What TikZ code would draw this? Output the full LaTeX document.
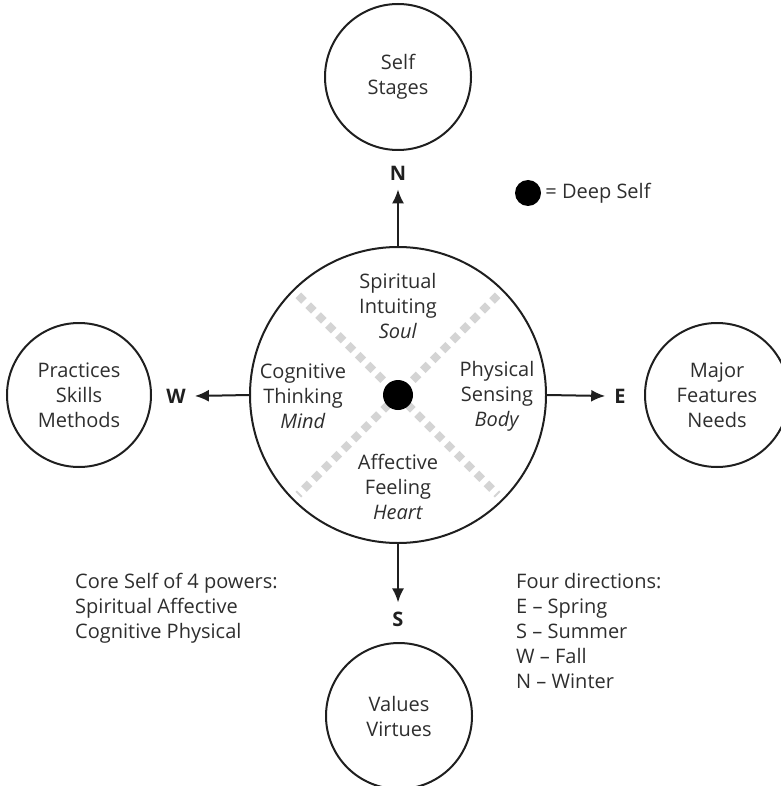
\documentclass[tikz,border=0pt]{standalone}
\usepackage{fontspec}
\setmainfont{Open Sans}
\usetikzlibrary{arrows.meta,positioning}

\definecolor{inkgrey}{HTML}{2E2E2E}
\definecolor{dashgrey}{HTML}{D4D4D4}

\tikzset{
  ring/.style={circle, draw=black!88, line width=2pt, minimum size=#1, inner sep=0pt, align=center, text=inkgrey},
  power/.style={align=center, text=inkgrey, inner sep=0pt},
  dirlabel/.style={font=\fontsize{20}{25}\selectfont\bfseries, text=black!88, inner sep=9pt},
  dirarrow/.style={line width=2pt, -{Latex[length=14pt,width=12pt]}, black!88},
  greydash/.style={line width=8pt, dashgrey, dash pattern=on 8pt off 6pt, shorten >=8pt, shorten <=8pt},
  note/.style={align=left, text=inkgrey, inner sep=0pt, anchor=north west},
}

\begin{document}
\begin{tikzpicture}[x=1pt, y=-1pt, font=\fontsize{20}{25}\selectfont]
\useasboundingbox (0,0) rectangle (780,786);

% the core self and its four powers
\node[ring=296pt] (core) at (398,395) {};
\draw[greydash] (core.north west) -- (core.south east);
\draw[greydash] (core.north east) -- (core.south west);
\node[fill=black, circle, minimum size=30pt, inner sep=0pt] (deep) at (core.center) {};
\node[power] (soul) at (398,306) {Spiritual\\Intuiting\\\textit{Soul}};
\node[power] (mind) at (303,396) {Cognitive\\Thinking\\\textit{Mind}};
\node[power] (body) at (497,396) {Physical\\Sensing\\\textit{Body}};
\node[power] (heart) at (398,487) {Affective\\Feeling\\\textit{Heart}};

% the four directions
\node[dirlabel] (N) at (398,173) {N};
\node[dirlabel] (S) at (398,619) {S};
\node[dirlabel] (W) at (176,396) {W};
\node[dirlabel] (E) at (620,396) {E};
\draw[dirarrow] (core.north) -- (N.south);
\draw[dirarrow] (core.south) -- (S.north);
\draw[dirarrow] (core.west) -- (W.east);
\draw[dirarrow] (core.east) -- (E.west);

% outer circles
\node[ring=146pt] (north) at (398,77) {Self\\Stages};
\node[ring=146pt] (south) at (399,716) {Values\\Virtues};
\node[ring=144pt] (west) at (79,395) {Practices\\Skills\\Methods};
\node[ring=144pt] (east) at (717,395) {Major\\Features\\Needs};

% legend and notes
\node[fill=black, circle, minimum size=26pt, inner sep=0pt] (legenddot) at (528,193) {};
\node[right=4pt of legenddot, text=inkgrey, inner sep=0pt] (legend) {= Deep Self};
\node[note] (powers) at (75,573) {Core Self of 4 powers:\\Spiritual Affective\\Cognitive Physical};
\node[note] (seasons) at (516,573) {Four directions:\\E -- Spring\\S -- Summer\\W -- Fall\\N -- Winter};
\end{tikzpicture}
\end{document}
